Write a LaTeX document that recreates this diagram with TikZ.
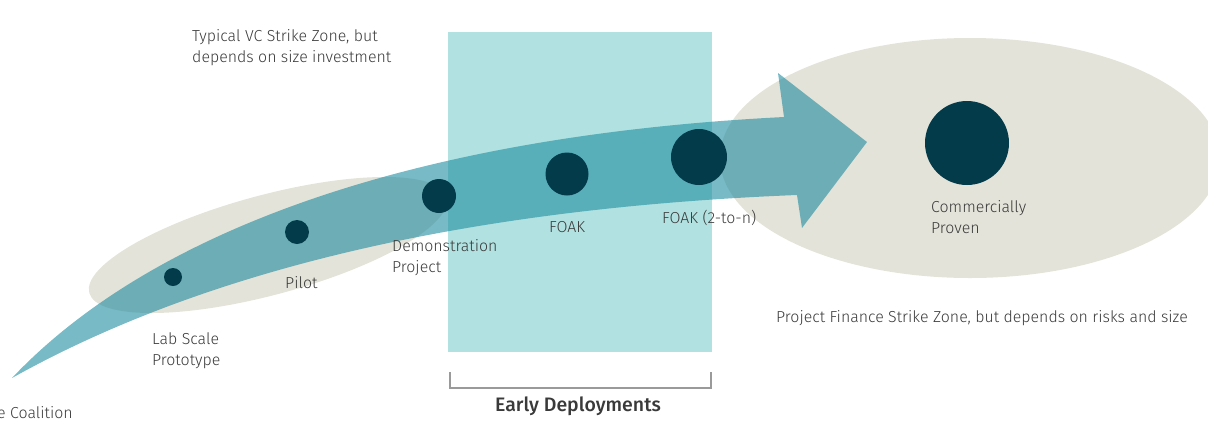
\documentclass[tikz,border=0pt]{standalone}
\usepackage{fontspec}
\setmainfont{Fira Sans}[UprightFont=* Light, BoldFont=* Medium]
\definecolor{stagec}{HTML}{033B4A}
\definecolor{zonec}{HTML}{E4E3D9}
\definecolor{deployc}{HTML}{B1E1E0}
\definecolor{flowc}{HTML}{1E8CA0}
\definecolor{labelc}{HTML}{3A3A3A}
\definecolor{bracketc}{HTML}{9A9A9A}
\begin{document}
\begin{tikzpicture}[x=1pt,y=-1pt,
  stagedot/.style={circle,fill=stagec,inner sep=0pt},
  lbl/.style={text=labelc,font=\fontsize{15.9}{21}\selectfont,align=left,inner sep=0pt,anchor=north west},
  headlbl/.style={text=labelc,font=\fontsize{19.5}{22}\selectfont\bfseries,inner sep=0pt,anchor=north}]
\useasboundingbox (0,0) rectangle (1208,421);

% strike zones
\fill[zonec] (970,158) ellipse [x radius=250, y radius=120];
\fill[zonec, rotate around={15:(268,245)}] (268,245) ellipse [x radius=185, y radius=50];

% early deployment band
\fill[deployc] (448,32) rectangle (712,352);

% development path arrow
\fill[flowc, fill opacity=0.6]
  (12,378) .. controls (150,232) and (410,136) .. (784,117)
  -- (778,73) -- (867,142) -- (802,228) -- (797,195)
  .. controls (469,208) and (207,269) .. (12,378) -- cycle;

% stages
\node[stagedot, minimum size=18] (lab)  at (173,277) {};
\node[stagedot, minimum size=24] (pilot) at (297,232) {};
\node[stagedot, minimum size=34] (demo) at (439,196) {};
\node[stagedot, minimum size=43] (foak) at (567,174) {};
\node[stagedot, minimum size=56] (foakn) at (699,157) {};
\node[stagedot, minimum size=84] (comm) at (967,143) {};

% labels
\node[lbl] (vc) at (192,29) {Typical VC Strike Zone, but\\depends on size investment};
\node[lbl] (labl) at (152,332) {Lab Scale\\Prototype};
\node[lbl] (pilotl) at (285,276) {Pilot};
\node[lbl] (demol) at (392,239) {Demonstration\\Project};
\node[lbl] (foakl) at (549,221) {FOAK};
\node[lbl] (foaknl) at (662,210) {FOAK (2-to-n)};
\node[lbl] (comml) at (931,200) {Commercially\\Proven};
\node[lbl] (pf) at (776,310) {Project Finance Strike Zone, but depends on risks and size};
\node[lbl] (coal) at (-3,406) {e Coalition};

% early deployments bracket
\coordinate (bl) at (450,372);
\coordinate (br) at (711,372);
\draw[bracketc, line width=2] (bl) -- ++(0,16) -| (br);
\node[headlbl] (early) at (578,397) {Early Deployments};
\end{tikzpicture}
\end{document}
